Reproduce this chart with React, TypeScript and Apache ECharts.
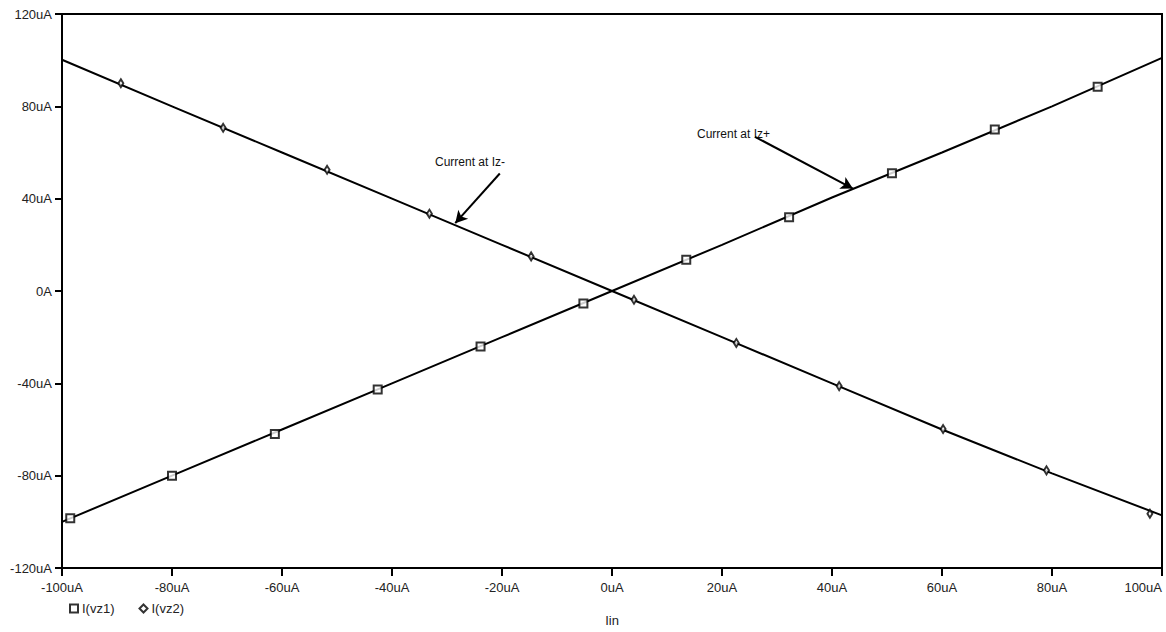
import React, { useEffect, useRef } from "react";
import * as echarts from "echarts";

// Line samples (uA)
const lineX = [-100, -80, -60, -40, -20, 0, 20, 40, 60, 80, 100];
const vz1Line = [-100, -80, -60, -40, -20, 0, 20, 40.5, 60, 80, 101];
const vz2Line = [100.2, 80, 60, 40, 20, 0, -20, -40, -60, -79, -97.2];

// Marker positions
const vz1MarkX = [-98.5, -80, -61.3, -42.6, -23.9, -5.2, 13.5, 32.2, 50.9, 69.6, 88.3];
const vz1MarkY = [-98.5, -80, -62, -42.7, -24, -5.4, 13.5, 32, 51, 70, 88.5];
const vz2MarkX = [-89.3, -70.7, -51.8, -33.2, -14.7, 4, 22.6, 41.3, 60.2, 79, 97.8];
const vz2MarkY = [90, 70.7, 52.5, 33.5, 15, -3.8, -22.5, -41.2, -59.8, -77.7, -96.5];

const yTicks = { min: -120, max: 120, interval: 40 };
const xTicks = { min: -100, max: 100, interval: 20 };

const seriesNames = ["I(vz1)", "I(vz2)"];
const axisTitle = "Iin";
const annotations = [
  { text: "Current at Iz-", from: [-20.4, 50.9], to: [-28.5, 29.4] },
  { text: "Current at Iz+", from: [26, 66.8], to: [43.8, 44.4] },
];

const FONT = "'Liberation Sans', Arial, sans-serif";

function fmtY(v: number) {
  return v === 0 ? "0A" : `${v}uA`;
}
function fmtX(v: number) {
  return `${v}uA`;
}

export default function App() {
  const ref = useRef<HTMLDivElement>(null);
  useEffect(() => {
    if (!ref.current) return;
    const chart = echarts.init(ref.current, undefined, { renderer: "svg" });
    const pair = (xs: number[], ys: number[]) => xs.map((x, i) => [x, ys[i]]);
    chart.setOption({
      animation: false,
      backgroundColor: "#fff",
      textStyle: { fontFamily: FONT },
      grid: {
        left: 62,
        right: 4,
        top: 14,
        bottom: 59,
        show: true,
        borderColor: "#000",
        borderWidth: 2,
        backgroundColor: "transparent",
      },
      xAxis: {
        type: "value",
        min: xTicks.min,
        max: xTicks.max,
        interval: xTicks.interval,
        name: axisTitle,
        nameLocation: "middle",
        nameGap: 46,
        nameTextStyle: { color: "#222", fontSize: 13, fontFamily: FONT },
        axisLine: { show: true, onZero: false, lineStyle: { color: "#000", width: 2 } },
        axisTick: { show: true, inside: false, length: 8, lineStyle: { color: "#000", width: 2 } },
        splitLine: { show: false },
        axisLabel: {
          formatter: fmtX,
          color: "#222",
          fontSize: 13,
          fontFamily: FONT,
          margin: 13,
          alignMaxLabel: "right",
        },
      },
      yAxis: {
        type: "value",
        min: yTicks.min,
        max: yTicks.max,
        interval: yTicks.interval,
        axisLine: { show: true, onZero: false, lineStyle: { color: "#000", width: 2 } },
        axisTick: { show: true, inside: false, length: 7, lineStyle: { color: "#000", width: 2 } },
        splitLine: { show: false },
        axisLabel: {
          formatter: fmtY,
          color: "#222",
          fontSize: 13,
          fontFamily: FONT,
          margin: 10,
        },
      },
      legend: {
        data: seriesNames,
        left: 64,
        top: 597,
        itemWidth: 8,
        itemHeight: 8,
        itemGap: 24,
        textStyle: { color: "#222", fontSize: 13, fontFamily: FONT, padding: [0, 0, 0, -1] },
        selectedMode: false,
      },
      series: [
        {
          name: "vz1-line",
          type: "line",
          data: pair(lineX, vz1Line),
          showSymbol: false,
          symbol: "none",
          lineStyle: { color: "#000", width: 2 },
          silent: true,
          markLine: {
            silent: true,
            symbol: ["none", "arrow"],
            symbolSize: [10, 12],
            lineStyle: { color: "#000", width: 2, type: "solid" },
            label: { show: false },
            data: annotations.map((a) => [
              { coord: a.from },
              { coord: a.to },
            ]),
          },
        },
        {
          name: "vz2-line",
          type: "line",
          data: pair(lineX, vz2Line),
          showSymbol: false,
          symbol: "none",
          lineStyle: { color: "#000", width: 2 },
          silent: true,
        },
        {
          name: seriesNames[0],
          type: "scatter",
          data: pair(vz1MarkX, vz1MarkY),
          symbol: "emptyRect",
          symbolSize: 8,
          itemStyle: { color: "#000", borderColor: "#000", borderWidth: 2 },
          z: 5,
        },
        {
          name: seriesNames[1],
          type: "scatter",
          data: pair(vz2MarkX, vz2MarkY),
          symbol: "emptyDiamond",
          symbolSize: [5, 8],
          itemStyle: { color: "#000", borderColor: "#000", borderWidth: 2 },
          z: 5,
        },
      ],
      graphic: [
        {
          type: "text",
          left: 435,
          top: 156,
          style: { text: annotations[0].text, fill: "#111", fontSize: 12, fontFamily: FONT },
        },
        {
          type: "text",
          left: 697,
          top: 128,
          style: { text: annotations[1].text, fill: "#111", fontSize: 12, fontFamily: FONT },
        },
      ],
    });
    return () => chart.dispose();
  }, []);
  return (
    <div
      ref={ref}
      style={{ position: "fixed", left: 0, top: 0, width: 1166, height: 632, background: "#fff" }}
    />
  );
}
